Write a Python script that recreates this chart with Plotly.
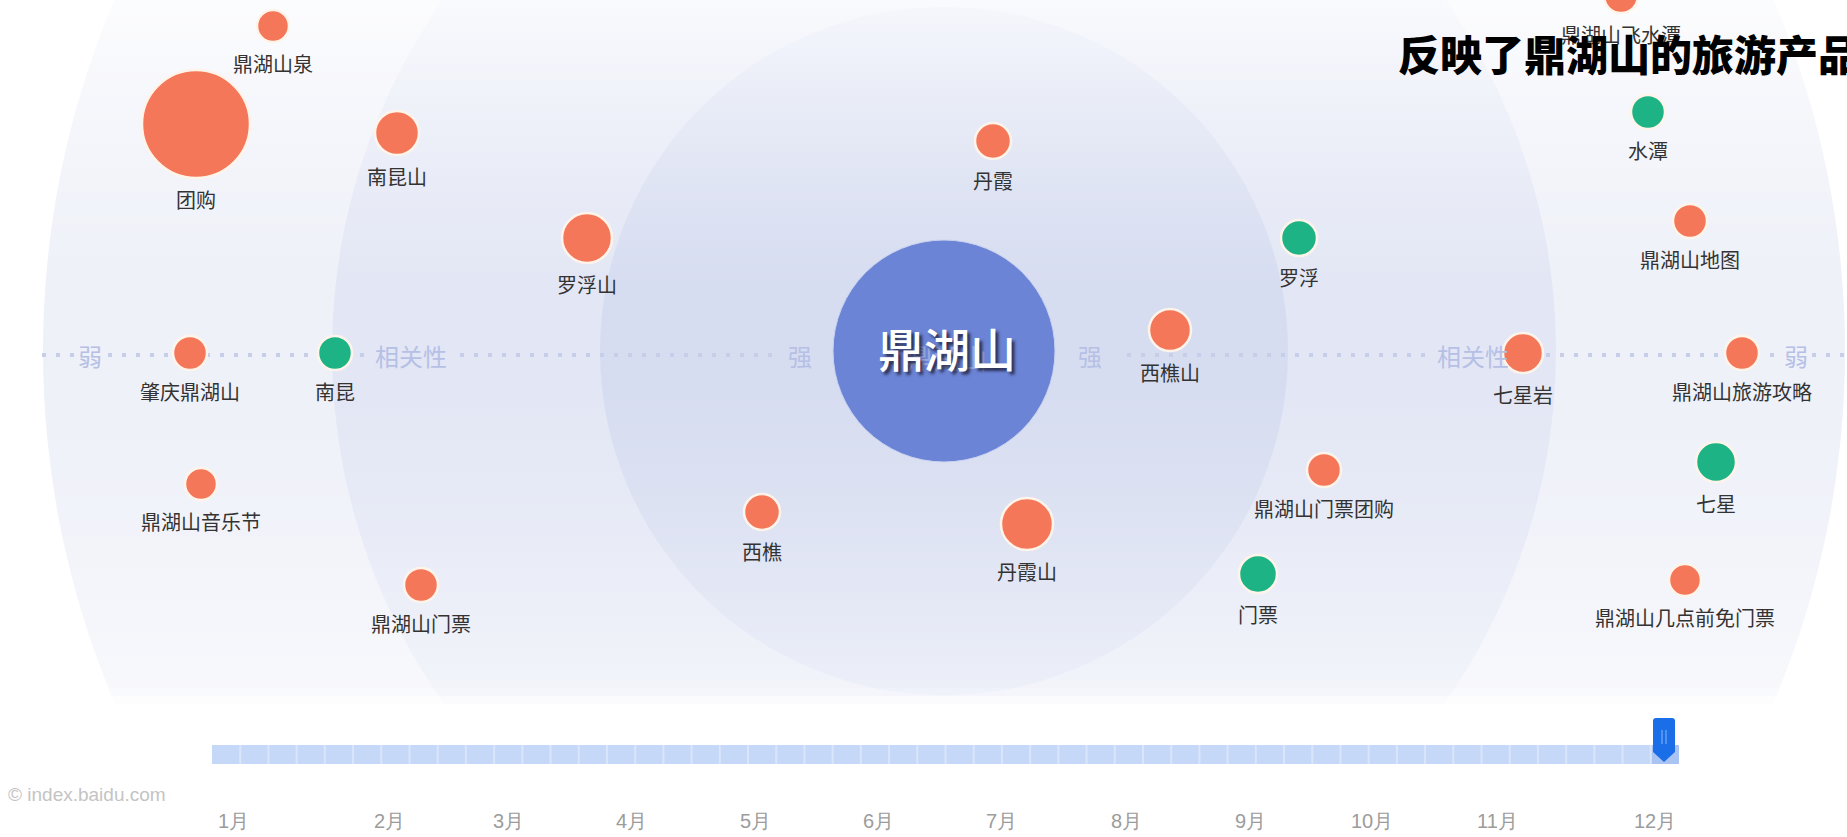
import plotly.graph_objects as go

W, H = 1847, 837

# ---------------- data ----------------
center_name = "鼎湖山"
center_x, center_y, center_r = 944, 351, 111

names = ["鼎湖山泉", "团购", "南昆山", "罗浮山", "丹霞", "罗浮", "西樵山", "鼎湖山飞水潭",
         "水潭", "鼎湖山地图", "七星岩", "鼎湖山旅游攻略", "七星", "鼎湖山门票团购", "门票",
         "鼎湖山几点前免门票", "丹霞山", "西樵", "鼎湖山门票", "鼎湖山音乐节", "肇庆鼎湖山", "南昆"]
node_x = [273, 196, 397, 587, 993, 1299, 1170, 1621, 1648, 1690, 1523, 1742, 1716, 1324, 1258,
          1685, 1027, 762, 421, 201, 190, 335]
node_y = [26, 124, 133, 238, 141, 238, 330, -4, 112, 221, 353, 353, 462, 470, 574,
          580, 524, 512, 585, 484, 353, 353]
node_r = [16, 54, 22, 25, 18, 18, 21, 17, 17, 17, 20, 17, 20, 17, 19,
          16, 26, 18, 17, 16, 17, 17]
trend = ["rise", "rise", "rise", "rise", "rise", "fall", "rise", "rise", "fall", "rise", "rise",
         "rise", "fall", "rise", "fall", "rise", "rise", "rise", "rise", "rise", "rise", "fall"]

axis_words = ["弱", "相关性", "强", "强", "相关性", "弱"]
axis_word_x = [90, 411, 800, 1090, 1473, 1796]
axis_y = 355
dot_segments = [(42, 76), (108, 366), (460, 780), (1127, 1432), (1518, 1780), (1812, 1847)]

ring_r = [901, 612, 344]
ring_colors = ["#eff1f9", "#e3e7f5", "#d7ddf1"]

month_labels = ["1月", "2月", "3月", "4月", "5月", "6月", "7月", "8月", "9月", "10月", "11月", "12月"]
month_x = [233, 389, 508, 631, 755, 878, 1001, 1126, 1250, 1372, 1497, 1655]
weeks = 52
bar_x0, bar_x1 = 212, 1679
slider_x = 1664

title_text = "反映了鼎湖山的旅游产品"
watermark = "© index.baidu.com"

colors = {"rise": "#f5775a", "fall": "#1db385"}

# ---------------- figure ----------------
fig = go.Figure()
shapes = []

# background rings
for r, c in zip(ring_r, ring_colors):
    shapes.append(dict(type="circle", xref="x", yref="y", layer="below",
                       x0=center_x - r, x1=center_x + r, y0=center_y - r, y1=center_y + r,
                       fillcolor=c, line=dict(width=0)))

# vertical fade overlays (top and bottom)
step = 8
y = 0
while y < H:
    yc = y + step / 2
    if yc < center_y:
        op = 0.78 * (1 - yc / 300) ** 1.3 if yc < 300 else 0.0
    elif yc < 690:
        op = 0.55 * ((yc - center_y) / (690 - center_y)) ** 1.6
    elif yc < 706:
        op = 0.55 + 0.45 * (yc - 690) / 16
    else:
        op = 1.0
    if op > 0.005:
        shapes.append(dict(type="rect", xref="x", yref="y", layer="below",
                           x0=0, x1=W, y0=y, y1=y + step,
                           fillcolor="white", opacity=min(op, 1.0), line=dict(width=0)))
    y += step

# timeline bar
shapes.append(dict(type="rect", xref="x", yref="y", layer="below",
                   x0=bar_x0, x1=bar_x1, y0=745, y1=764,
                   fillcolor="#c6d8f8", line=dict(width=0)))
seg = (bar_x1 - bar_x0) / weeks
shapes.append(dict(type="rect", xref="x", yref="y", layer="below",
                   x0=bar_x1 - seg, x1=bar_x1, y0=745, y1=764,
                   fillcolor="#a9c4f2", line=dict(width=0)))
for i in range(1, weeks):
    xs = bar_x0 + i * seg
    shapes.append(dict(type="line", xref="x", yref="y", layer="below",
                       x0=xs, x1=xs, y0=745, y1=764,
                       line=dict(color="#d9e5fb", width=2)))

# slider pin
px = slider_x
shapes.append(dict(type="path", xref="x", yref="y", layer="above",
                   path=(f"M {px-8} 718 L {px+8} 718 Q {px+11} 718 {px+11} 721 L {px+11} 752 "
                         f"L {px} 762 L {px-11} 752 L {px-11} 721 Q {px-11} 718 {px-8} 718 Z"),
                   fillcolor="#1a6ee8", line=dict(width=0)))
for dx in (-2, 2):
    shapes.append(dict(type="line", xref="x", yref="y", layer="above",
                       x0=px + dx, x1=px + dx, y0=730, y1=744,
                       line=dict(color="#78a9f5", width=1.2)))

# dotted relevance axis
for (a, b) in dot_segments:
    fig.add_trace(go.Scatter(x=[a, b], y=[axis_y, axis_y], mode="lines",
                             line=dict(color="#c6cee9", width=4, dash="4px,10px"),
                             hoverinfo="skip", showlegend=False))

# center node
fig.add_trace(go.Scatter(x=[center_x], y=[center_y], mode="markers",
                         marker=dict(size=2 * center_r, color="#6c84d6", opacity=1,
                                     line=dict(color="#c9d2f0", width=1)),
                         hoverinfo="skip", showlegend=False))

# keyword nodes
fig.add_trace(go.Scatter(
    x=node_x, y=node_y, mode="markers",
    marker=dict(size=[2 * r for r in node_r], color=[colors[t] for t in trend], opacity=1,
                line=dict(color="#fff4ea", width=2.5)),
    hovertext=names, hoverinfo="text", showlegend=False))

# node labels
fig.add_trace(go.Scatter(
    x=node_x, y=[yy + r + 25 for yy, r in zip(node_y, node_r)], mode="text",
    text=names, textposition="middle center",
    textfont=dict(family="Noto Sans CJK SC", size=20, color="#333333"),
    hoverinfo="skip", showlegend=False))

annotations = []
for w, xw in zip(axis_words, axis_word_x):
    annotations.append(dict(x=xw, y=axis_y, xref="x", yref="y", text=w, showarrow=False,
                            font=dict(family="Noto Sans CJK SC", size=24, color="#b6c0e5")))

# center text (faint ghost + main with shadow)
annotations.append(dict(x=center_x + 2, y=center_y + 6, xref="x", yref="y", text=center_name,
                        showarrow=False, opacity=0.3,
                        font=dict(family="Noto Sans CJK SC", size=27, color="#ffffff")))
annotations.append(dict(x=center_x + 3, y=center_y - 4, xref="x", yref="y", text=center_name,
                        showarrow=False,
                        font=dict(family="Noto Sans CJK SC", size=46, color="#ffffff",
                                  weight=500,
                                  shadow="3px 3px 3px rgba(20,20,40,0.75)")))

# months
for m, xm in zip(month_labels, month_x):
    annotations.append(dict(x=xm, y=821, xref="x", yref="y", text=m, showarrow=False,
                            font=dict(family="Liberation Sans", size=20, color="#9c9c9c")))

annotations.append(dict(x=6, y=794, xref="x", yref="y", text=watermark, showarrow=False,
                        xanchor="left",
                        font=dict(family="Liberation Sans", size=19, color="#c4c4c4")))

annotations.append(dict(x=1396, y=52, xref="x", yref="y", text=title_text, showarrow=False,
                        xanchor="left", yanchor="middle",
                        font=dict(family="Noto Sans CJK SC", size=42, color="#000000",
                                  weight=900)))

fig.update_layout(
    width=W, height=H, margin=dict(l=0, r=0, t=0, b=0),
    paper_bgcolor="white", plot_bgcolor="white",
    xaxis=dict(range=[0, W], visible=False, fixedrange=True),
    yaxis=dict(range=[H, 0], visible=False, fixedrange=True),
    shapes=shapes, annotations=annotations, showlegend=False,
)

fig.write_html("out.html", config={"displayModeBar": False},
               post_script="document.body.style.margin='0';document.body.style.overflow='hidden';")
